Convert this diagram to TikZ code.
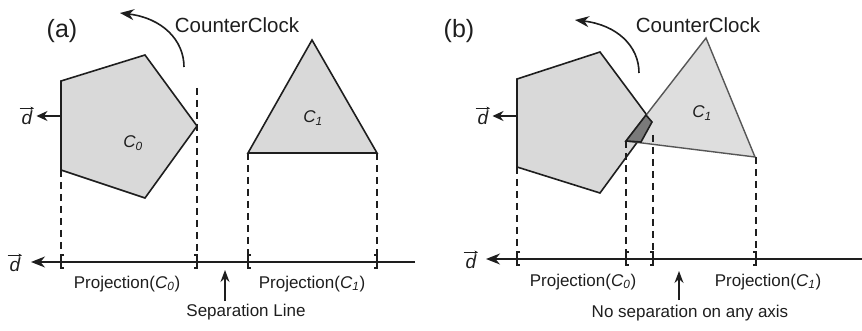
\documentclass[tikz,border=0pt]{standalone}
\usepackage{fontspec}
\setmainfont{Liberation Sans}
\usetikzlibrary{arrows.meta}
\definecolor{shapefill}{HTML}{D9D9D9}
\definecolor{trifill}{HTML}{DEDEDE}
\definecolor{overlapfill}{HTML}{7A7A7A}
\definecolor{ink}{HTML}{1E1E1E}
\newcommand\Csub[1]{\textit{C}\textsubscript{\textit{#1}}}
\begin{document}
\begin{tikzpicture}[x=1pt,y=-1pt,
  outline/.style={draw=ink,line width=1.6pt,line join=miter},
  projline/.style={draw=ink,line width=1.4pt,dash pattern=on 7pt off 5pt},
  axisline/.style={draw=ink,line width=1.6pt,-{Stealth[length=14pt,width=11pt]}},
  darrow/.style={draw=ink,line width=1.6pt,-{Stealth[length=11pt,width=10pt]}},
  uparrow/.style={draw=ink,line width=1.4pt,-{Stealth[length=12pt,width=9pt]}},
  rotarrow/.style={draw=ink,line width=1.6pt,-{Stealth[length=14pt,width=11pt]}},
  vecarrow/.style={draw=ink,line width=0.9pt,-{Stealth[length=3.5pt,width=3.5pt]}},
  bracket/.style={draw=ink,line width=1.6pt},
  txt/.style={font=\fontsize{17}{20}\selectfont,inner sep=0pt,text=ink},
  dtxt/.style={font=\fontsize{19}{22}\selectfont\itshape,inner sep=0pt,text=ink},
  bigtxt/.style={font=\fontsize{20.5}{24}\selectfont,inner sep=0pt,text=ink},
  paneltxt/.style={font=\fontsize{25}{30}\selectfont,inner sep=0pt,text=ink},
  shapelbl/.style={font=\fontsize{17}{20}\selectfont,inner sep=0pt,text=ink},
]
\useasboundingbox (0,0) rectangle (862,331);

% ================= panel (a) =================
\node[paneltxt] (pa) at (62,31) {(a)};
\coordinate (a1) at (61,81);
\coordinate (a2) at (145,55);
\coordinate (a3) at (197,126);
\coordinate (a4) at (145,198);
\coordinate (a5) at (61,170);
\filldraw[outline,fill=shapefill] (a1) -- (a2) -- (a3) -- (a4) -- (a5) -- cycle;
\node[shapelbl] (c0a) at (133,143) {\Csub{0}};

\coordinate (t1) at (312,40);
\coordinate (t2) at (377,153);
\coordinate (t3) at (248,153);
\filldraw[outline,fill=shapefill] (t1) -- (t2) -- (t3) -- cycle;
\node[shapelbl] (c1a) at (313,118) {\Csub{1}};

% direction vector
\coordinate (da0) at (61,116);
\node[dtxt] (dla) at (27,118) {d};
\draw[vecarrow] ([xshift=-2pt,yshift=2.5pt]dla.north west) -- ([xshift=1.5pt,yshift=2.5pt]dla.north east);
\draw[darrow] (da0) -- ([xshift=4pt]dla.east |- da0);

% rotation arrow
\coordinate (rsa) at (184,67);
\coordinate (rea) at (120,13);
\draw[rotarrow] (rsa) .. controls (184,40) and (162,18) .. (rea);
\node[bigtxt] (cca) at (237,25) {CounterClock};

% axis
\coordinate (axa0) at (415,262);
\node[dtxt] (axda) at (15,265) {d};
\draw[vecarrow] ([xshift=-2pt,yshift=2.5pt]axda.north west) -- ([xshift=1.5pt,yshift=2.5pt]axda.north east);
\coordinate (axa1) at (31,262);
\draw[axisline] (axa0) -- (axa1);

% projections
\coordinate (pa1t) at (61,170);  \coordinate (pa1b) at (61,255);
\coordinate (pa2t) at (197,88);  \coordinate (pa2b) at (197,255);
\coordinate (pa3t) at (248,153); \coordinate (pa3b) at (248,255);
\coordinate (pa4t) at (377,153); \coordinate (pa4b) at (377,255);
\draw[projline] (pa1t) -- (pa1b);
\draw[projline] (pa2t) -- (pa2b);
\draw[projline] (pa3t) -- (pa3b);
\draw[projline] (pa4t) -- (pa4b);
\draw[bracket] (64,255) -- (61,255) -- (61,268) -- (64,268);
\draw[bracket] (194,255) -- (197,255) -- (197,268) -- (194,268);
\draw[bracket] (251,255) -- (248,255) -- (248,268) -- (251,268);
\draw[bracket] (374,255) -- (377,255) -- (377,268) -- (374,268);

\node[txt] (pja0) at (127,284) {Projection(\Csub{0})};
\node[txt] (pja1) at (312,284) {Projection(\Csub{1})};

\node[txt] (sep) at (246,312) {Separation Line};
\coordinate (sept) at (225,270);
\draw[uparrow] (225,301) -- (sept);

% ================= panel (b) =================
\node[paneltxt] (pb) at (459,31) {(b)};
\coordinate (b1) at (517,79);
\coordinate (b2) at (600,52);
\coordinate (b3) at (652,122);
\coordinate (b4) at (600,193);
\coordinate (b5) at (517,167);
\filldraw[outline,fill=shapefill] (b1) -- (b2) -- (b3) -- (b4) -- (b5) -- cycle;

\coordinate (u1) at (706,38);
\coordinate (u2) at (755,157);
\coordinate (u3) at (626,141);
\filldraw[draw=ink!75,line width=1.4pt,fill=trifill] (u1) -- (u2) -- (u3) -- cycle;
\node[shapelbl] (c1b) at (702,113) {\Csub{1}};

% overlap region
\coordinate (o1) at (646,115);
\coordinate (o2) at (652,122);
\coordinate (o3) at (641,142);
\filldraw[outline,fill=overlapfill] (o1) -- (o2) -- (o3) -- (u3) -- cycle;

% direction vector
\coordinate (db0) at (517,116);
\node[dtxt] (dlb) at (483,118) {d};
\draw[vecarrow] ([xshift=-2pt,yshift=2.5pt]dlb.north west) -- ([xshift=1.5pt,yshift=2.5pt]dlb.north east);
\draw[darrow] (db0) -- ([xshift=4pt]dlb.east |- db0);

% rotation arrow
\coordinate (rsb) at (639,73);
\coordinate (reb) at (575,20);
\draw[rotarrow] (rsb) .. controls (639,46) and (617,25) .. (reb);
\node[bigtxt] (ccb) at (698,25) {CounterClock};

% axis
\coordinate (axb0) at (862,259);
\node[dtxt] (axdb) at (471,262) {d};
\draw[vecarrow] ([xshift=-2pt,yshift=2.5pt]axdb.north west) -- ([xshift=1.5pt,yshift=2.5pt]axdb.north east);
\coordinate (axb1) at (486,259);
\draw[axisline] (axb0) -- (axb1);

% projections
\coordinate (pb1t) at (517,167); \coordinate (pb1b) at (517,252);
\coordinate (pb2t) at (626,141); \coordinate (pb2b) at (626,252);
\coordinate (pb3t) at (653,135); \coordinate (pb3b) at (653,252);
\coordinate (pb4t) at (756,157); \coordinate (pb4b) at (756,252);
\draw[projline] (pb1t) -- (pb1b);
\draw[projline] (pb2t) -- (pb2b);
\draw[projline] (pb3t) -- (pb3b);
\draw[projline] (pb4t) -- (pb4b);
\draw[bracket] (520,252) -- (517,252) -- (517,265) -- (520,265);
\draw[bracket] (629,252) -- (626,252) -- (626,265) -- (629,265);
\draw[bracket] (650,252) -- (653,252) -- (653,265) -- (650,265);
\draw[bracket] (753,252) -- (756,252) -- (756,265) -- (753,265);

\node[txt] (pjb0) at (583,282) {Projection(\Csub{0})};
\node[txt] (pjb1) at (768,282) {Projection(\Csub{1})};

\node[txt] (nosep) at (690,313) {No separation on any axis};
\coordinate (nost) at (679,271);
\draw[uparrow] (679,300) -- (nost);
\end{tikzpicture}
\end{document}
